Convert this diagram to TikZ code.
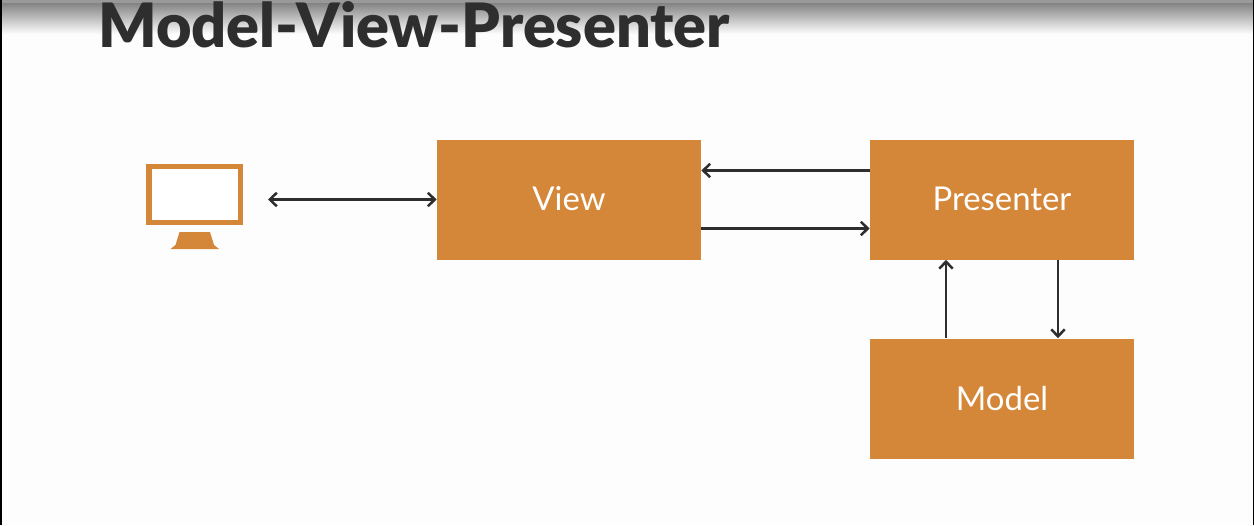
\documentclass[tikz,border=0pt]{standalone}
\usepackage{fontspec}
\usetikzlibrary{arrows.meta}
\setmainfont{Lato}
\newfontfamily\titlefont{Lato Black}
\definecolor{boxorange}{HTML}{D58739}
\definecolor{inkgray}{HTML}{2E2E2E}
\definecolor{pagewhite}{HTML}{FDFDFD}
\tikzset{
  block/.style={fill=boxorange, text=white, minimum width=5.28cm, minimum height=2.4cm,
    inner sep=0pt, font=\fontsize{18.7}{22}\selectfont},
  link/.style={draw=inkgray, line width=0.05cm, >={Straight Barb[length=0.14cm,width=0.27cm]}},
}
\begin{document}
\begin{tikzpicture}
  \useasboundingbox (0,0) rectangle (25.08,-10.5);
  \fill[pagewhite] (0,0) rectangle (25.08,-10.5);

  % top shadow and side edges
  \shade[top color=black!50, bottom color=pagewhite] (0,-0.04) rectangle (25.08,-0.68);
  \fill[black!40] (0,0) rectangle (25.08,-0.05);
  \fill[black] (0,0) rectangle (0.04,-10.5);
  \fill[black] (25.06,0) rectangle (25.08,-10.5);

  \node[anchor=base west, text=inkgray, inner sep=0pt, font=\fontsize{34.8}{40}\titlefont]
    (title) at (1.96,-0.94) {Model-View-Presenter};

  % boxes
  \node[block] (view) at (11.38,-3.99) {\raisebox{0.02cm}{View}};
  \node[block] (presenter) at (20.04,-3.99) {\raisebox{0.02cm}{Presenter}};
  \node[block] (model) at (20.04,-7.97) {\raisebox{0.02cm}{Model}};

  % monitor
  \node[draw=boxorange, line width=0.11cm, fill=white, minimum width=1.83cm, minimum height=1.12cm,
    inner sep=0pt] (screen) at (3.89,-3.89) {};
  \fill[boxorange] (3.59,-4.64) -- (4.2,-4.64) -- (4.28,-4.9) -- (4.38,-4.98)
    -- (3.41,-4.98) -- (3.51,-4.9) -- cycle;

  % connectors
  \coordinate (userend) at (5.36,-3.99);
  \draw[link, <->] (userend) -- (view.west);
  \draw[link, ->] ([yshift=0.58cm]presenter.west) -- ([yshift=0.58cm]view.east);
  \draw[link, ->] ([yshift=-0.58cm]view.east) -- ([yshift=-0.58cm]presenter.west);
  \draw[link, ->] ([xshift=-1.12cm]model.north) -- ([xshift=-1.12cm]presenter.south);
  \draw[link, ->] ([xshift=1.12cm]presenter.south) -- ([xshift=1.12cm]model.north);
\end{tikzpicture}
\end{document}
